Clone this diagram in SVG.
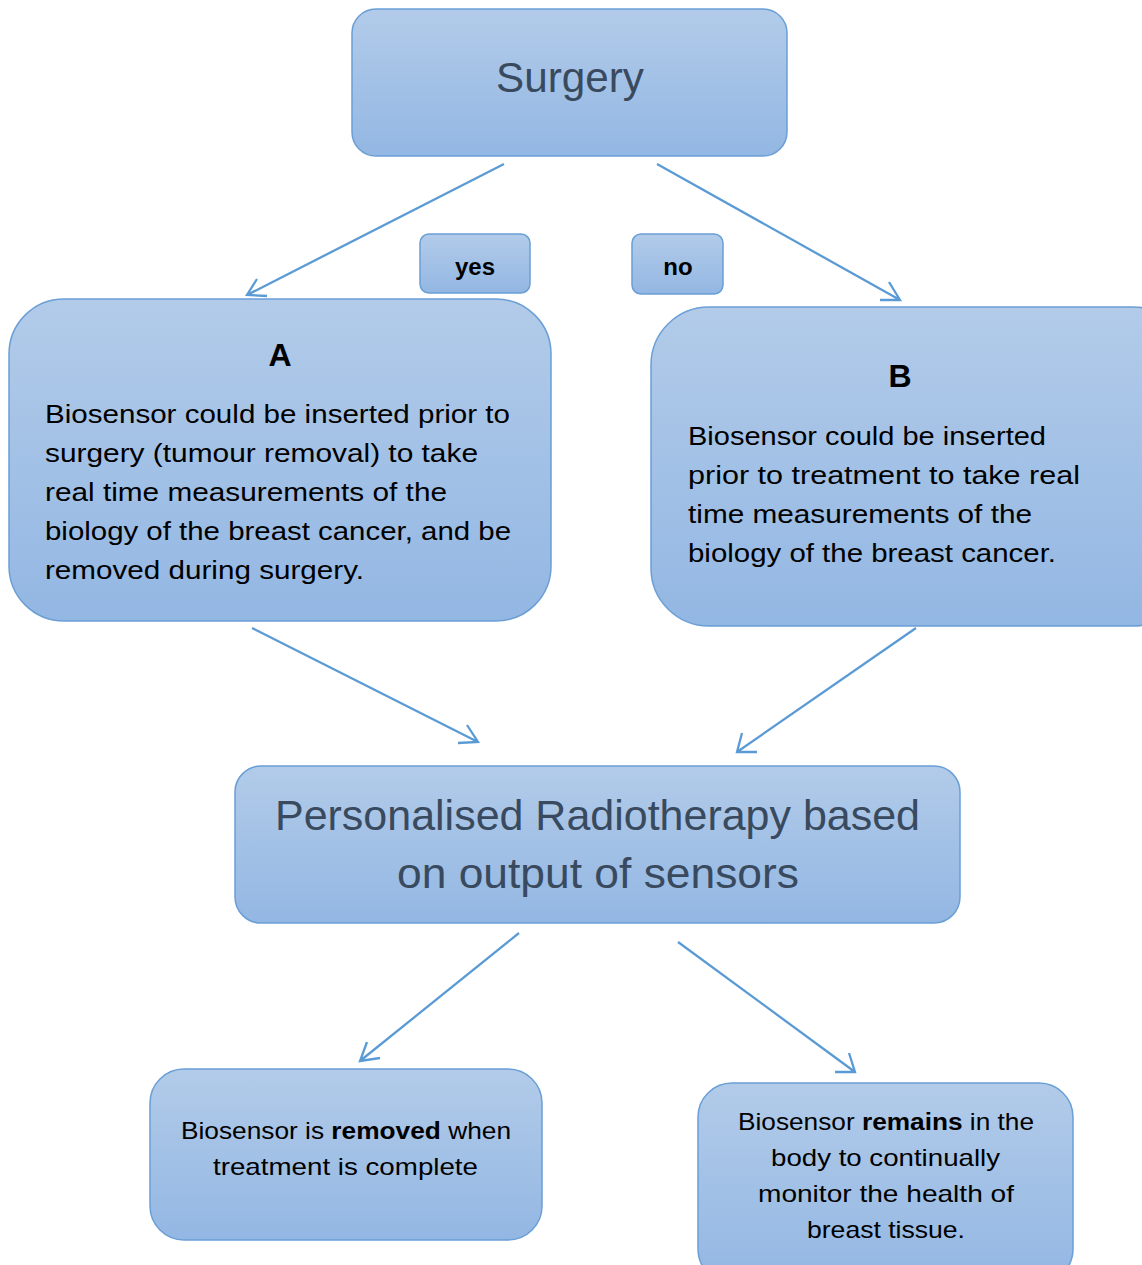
<svg xmlns="http://www.w3.org/2000/svg" width="1142" height="1265" viewBox="0 0 1142 1265">
<defs>
<linearGradient id="g" x1="0" y1="0" x2="0" y2="1">
<stop offset="0" stop-color="#b2cbe9"/>
<stop offset="1" stop-color="#93b7e3"/>
</linearGradient>
</defs>
<style>
.box{fill:url(#g);stroke:#6a9fd6;stroke-width:1.5}
.t{font-family:"Liberation Sans",Arial,sans-serif;fill:#000}
.title{font-family:"Liberation Sans",Arial,sans-serif;fill:#394a5e}
.b{font-weight:bold}
.conn path{stroke:#5b9bd5;stroke-width:2.3;fill:none;stroke-linejoin:miter}
</style>
<rect width="1142" height="1265" fill="#fff"/>
<g class="conn">
<path d="M504,164 L247,295 M257,279 L247,295 L267,296"/>
<path d="M657,164 L900,300 M880,300 L900,300 L889,282"/>
<path d="M252,628 L478,742 M467,725 L478,742 L458,743"/>
<path d="M916,628 L737,752 M742,733 L737,752 L757,752"/>
<path d="M519,933 L360,1061 M367,1042 L360,1061 L380,1058"/>
<path d="M678,942 L855,1072 M849,1053 L855,1072 L835,1072"/>
</g>
<g id="surgery">
<rect class="box" x="352" y="9" width="435" height="147" rx="24"/>
<text class="title" x="570" y="92" font-size="43" text-anchor="middle" textLength="148" lengthAdjust="spacingAndGlyphs">Surgery</text>
</g>
<g id="yes">
<rect class="box" x="420" y="234" width="110" height="59" rx="9"/>
<text class="t b" x="475" y="275" font-size="24" text-anchor="middle">yes</text>
</g>
<g id="no">
<rect class="box" x="632" y="234" width="91" height="60" rx="9"/>
<text class="t b" x="678" y="275" font-size="24" text-anchor="middle">no</text>
</g>
<g id="A">
<rect class="box" x="9" y="299" width="542" height="322" rx="55"/>
<text class="t b" x="280" y="366" font-size="32" text-anchor="middle">A</text>
<g class="t" font-size="26">
<text x="45" y="423" textLength="465" lengthAdjust="spacingAndGlyphs">Biosensor could be inserted prior to</text>
<text x="45" y="462" textLength="433" lengthAdjust="spacingAndGlyphs">surgery (tumour removal) to take</text>
<text x="45" y="501" textLength="402" lengthAdjust="spacingAndGlyphs">real time measurements of the</text>
<text x="45" y="540" textLength="466" lengthAdjust="spacingAndGlyphs">biology of the breast cancer, and be</text>
<text x="45" y="579" textLength="319" lengthAdjust="spacingAndGlyphs">removed during surgery.</text>
</g>
</g>
<g id="B">
<rect class="box" x="651" y="307" width="540" height="319" rx="58"/>
<text class="t b" x="900" y="387" font-size="32" text-anchor="middle">B</text>
<g class="t" font-size="26">
<text x="688" y="445" textLength="358" lengthAdjust="spacingAndGlyphs">Biosensor could be inserted</text>
<text x="688" y="484" textLength="392" lengthAdjust="spacingAndGlyphs">prior to treatment to take real</text>
<text x="688" y="523" textLength="344" lengthAdjust="spacingAndGlyphs">time measurements of the</text>
<text x="688" y="562" textLength="368" lengthAdjust="spacingAndGlyphs">biology of the breast cancer.</text>
</g>
</g>
<g id="radio">
<rect class="box" x="235" y="766" width="725" height="157" rx="26"/>
<text class="title" x="275" y="830" font-size="42" textLength="645" lengthAdjust="spacingAndGlyphs">Personalised Radiotherapy based</text>
<text class="title" x="397" y="888" font-size="42" textLength="402" lengthAdjust="spacingAndGlyphs">on output of sensors</text>
</g>
<g id="removed">
<rect class="box" x="150" y="1069" width="392" height="171" rx="34"/>
<text class="t" x="181" y="1139" font-size="24" textLength="330" lengthAdjust="spacingAndGlyphs">Biosensor is <tspan class="b">removed</tspan> when</text>
<text class="t" x="213" y="1175" font-size="24" textLength="265" lengthAdjust="spacingAndGlyphs">treatment is complete</text>
</g>
<g id="remains">
<rect class="box" x="698" y="1083" width="375" height="200" rx="34"/>
<text class="t" x="738" y="1130" font-size="24" textLength="296" lengthAdjust="spacingAndGlyphs">Biosensor <tspan class="b">remains</tspan> in the</text>
<text class="t" x="771" y="1166" font-size="24" textLength="229" lengthAdjust="spacingAndGlyphs">body to continually</text>
<text class="t" x="758" y="1202" font-size="24" textLength="256" lengthAdjust="spacingAndGlyphs">monitor the health of</text>
<text class="t" x="807" y="1238" font-size="24" textLength="158" lengthAdjust="spacingAndGlyphs">breast tissue.</text>
</g>
</svg>
